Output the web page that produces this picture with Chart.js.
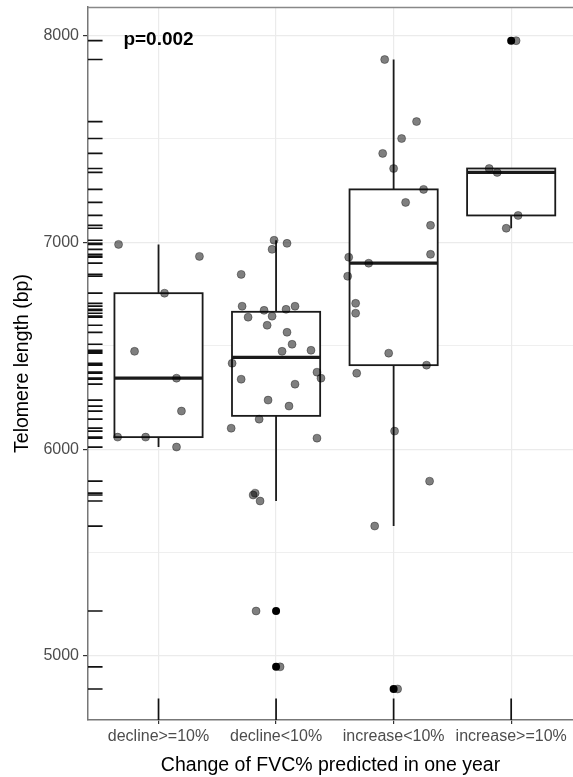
<!DOCTYPE html>
<html>
<head>
<meta charset="utf-8">
<script src="https://cdn.jsdelivr.net/npm/chart.js@4.4.1/dist/chart.umd.min.js"></script>
<style>
  html, body { margin: 0; padding: 0; background: #fff; overflow: hidden; }
  canvas { display: block; }
</style>
</head>
<body>
<canvas id="grafica" width="573" height="777"></canvas>
<script>
const categorias = ["decline>=10%", "decline<10%", "increase<10%", "increase>=10%"];

// telomere length (bp) per group
const valores1 = [6990, 6932, 6754, 6473, 6343, 6184, 6058, 6058, 6010];
const valores2 = [7010, 6995, 6966, 6845, 6691, 6638, 6671, 6643, 6676, 6691, 6599, 6565, 6507, 6473, 6478,
                  6415, 6372, 6343, 6338, 6314, 6237, 6208, 6145, 6101, 6053, 5778, 5787, 5749, 5217, 4947];
const valores3 = [7884, 7584, 7502, 7430, 7357, 7256, 7193, 7082, 6942, 6928, 6899, 6836, 6705, 6657, 6464,
                  6406, 6367, 6087, 5845, 5628, 4840];
const valores4 = [7975, 7357, 7338, 7130, 7068];

// jittered x position of each point (category units)
const jitter1 = [0.660, 1.348, 1.051, 0.796, 1.153, 1.195, 0.652, 0.890, 1.153];
const jitter2 = [1.983, 2.093, 1.966, 1.703, 1.711, 1.762, 1.898, 1.966, 2.085, 2.161, 1.924, 2.093, 2.136, 2.051, 2.297,
                 1.626, 2.348, 2.382, 1.703, 2.161, 1.932, 2.110, 1.856, 1.618, 2.348, 1.805, 1.822, 1.864, 1.830, 2.034];
const jitter3 = [2.924, 3.195, 3.068, 2.907, 3.000, 3.255, 3.102, 3.314, 3.314, 2.618, 2.788, 2.609, 2.677, 2.677, 2.958,
                 3.280, 2.686, 3.008, 3.306, 2.839, 3.034];
const jitter4 = [4.042, 3.813, 3.881, 4.059, 3.958];

const ticksY = [5000, 5500, 6000, 6500, 7000, 7500, 8000];
const etiquetaP = "p=0.002";

const grupos = [valores1, valores2, valores3, valores4];
const jitters = [jitter1, jitter2, jitter3, jitter4];
const FUENTE = "'Liberation Sans', Arial, sans-serif";

function cuantil(arr, p) {
  const s = [...arr].sort((a, b) => a - b);
  const h = (s.length - 1) * p;
  const lo = Math.floor(h);
  const hi = Math.min(lo + 1, s.length - 1);
  return s[lo] + (h - lo) * (s[hi] - s[lo]);
}

function resumen(arr) {
  const q1 = cuantil(arr, 0.25), med = cuantil(arr, 0.5), q3 = cuantil(arr, 0.75);
  const iqr = q3 - q1;
  const dentro = arr.filter(v => v >= q1 - 1.5 * iqr && v <= q3 + 1.5 * iqr);
  return {
    q1, med, q3,
    bajo: Math.min(...dentro),
    alto: Math.max(...dentro),
    atipicos: arr.filter(v => v < q1 - 1.5 * iqr || v > q3 + 1.5 * iqr)
  };
}

const stats = grupos.map(resumen);

const puntos = [];
grupos.forEach((g, i) => g.forEach((v, j) => puntos.push({ x: jitters[i][j], y: v })));
const atipicos = [];
stats.forEach((s, i) => s.atipicos.forEach(v => atipicos.push({ x: i + 1, y: v })));

// boxes, whiskers, rugs, panel border and p label
const cajas = {
  id: "cajas",
  beforeDatasetsDraw(chart) {
    const { ctx, chartArea, scales: { x, y } } = chart;
    ctx.save();
    ctx.strokeStyle = "#888";
    ctx.lineWidth = 1.5;
    ctx.beginPath();
    ctx.moveTo(chartArea.left, chartArea.top + 0.5);
    ctx.lineTo(chartArea.right, chartArea.top + 0.5);
    ctx.stroke();

    stats.forEach((s, i) => {
      const cx = x.getPixelForValue(i + 1);
      const x0 = x.getPixelForValue(i + 1 - 0.375);
      const x1 = x.getPixelForValue(i + 1 + 0.375);
      ctx.strokeStyle = "#1a1a1a";
      ctx.lineWidth = 1.8;
      ctx.beginPath();
      ctx.moveTo(cx, y.getPixelForValue(s.q3));
      ctx.lineTo(cx, y.getPixelForValue(s.alto));
      ctx.moveTo(cx, y.getPixelForValue(s.q1));
      ctx.lineTo(cx, y.getPixelForValue(s.bajo));
      ctx.stroke();
      const yt = y.getPixelForValue(s.q3), yb = y.getPixelForValue(s.q1);
      ctx.fillStyle = "#fff";
      ctx.fillRect(x0, yt, x1 - x0, yb - yt);
      ctx.strokeRect(x0, yt, x1 - x0, yb - yt);
      ctx.lineWidth = 3.2;
      ctx.beginPath();
      ctx.moveTo(x0, y.getPixelForValue(s.med));
      ctx.lineTo(x1, y.getPixelForValue(s.med));
      ctx.stroke();
    });
    ctx.restore();
  },
  afterDatasetsDraw(chart) {
    const { ctx, chartArea, scales: { x, y } } = chart;
    ctx.save();
    ctx.strokeStyle = "#111";
    ctx.lineWidth = 1.7;
    const largoY = (chartArea.right - chartArea.left) * 0.03;
    const largoX = (chartArea.bottom - chartArea.top) * 0.03;
    ctx.beginPath();
    grupos.forEach((g, i) => g.forEach(v => {
      const py = y.getPixelForValue(v);
      ctx.moveTo(chartArea.left, py);
      ctx.lineTo(chartArea.left + largoY, py);
      const px = x.getPixelForValue(i + 1);
      ctx.moveTo(px, chartArea.bottom);
      ctx.lineTo(px, chartArea.bottom - largoX);
    }));
    ctx.stroke();

    ctx.fillStyle = "#000";
    ctx.font = "bold 19px " + FUENTE;
    ctx.textAlign = "center";
    ctx.textBaseline = "middle";
    ctx.fillText(etiquetaP, x.getPixelForValue(1), y.getPixelForValue(7978));
    ctx.restore();
  }
};

new Chart(document.getElementById("grafica"), {
  type: "scatter",
  data: {
    datasets: [
      { data: puntos, backgroundColor: "rgba(0,0,0,0.5)", borderColor: "rgba(0,0,0,0.35)", borderWidth: 1, pointRadius: 4 },
      { data: atipicos, backgroundColor: "#000", borderColor: "#000", borderWidth: 0, pointRadius: 4 }
    ]
  },
  options: {
    responsive: false,
    animation: false,
    layout: { autoPadding: false, padding: { top: 7, right: 0, left: 0, bottom: 0 } },
    plugins: { legend: { display: false }, tooltip: { enabled: false } },
    scales: {
      x: {
        type: "linear",
        min: 0.4,
        max: 4.526,
        afterBuildTicks: s => { s.ticks = [1, 2, 3, 4].map(v => ({ value: v })); },
        afterFit: s => { s.height = 57; s.paddingLeft = 0; s.paddingRight = 0; },
        ticks: {
          callback: v => categorias[v - 1],
          autoSkip: false, maxRotation: 0,
          color: "#4d4d4d", padding: 3,
          font: { family: FUENTE, size: 16 }
        },
        grid: { color: "#ebebeb", lineWidth: 1.2, tickColor: "#333", tickLength: 4 },
        border: { color: "#777", width: 1.5 },
        title: {
          display: true, text: "Change of FVC% predicted in one year", color: "#000",
          font: { family: FUENTE, size: 19.5 }, padding: { top: 5, bottom: 0 }
        }
      },
      y: {
        type: "linear",
        min: 4690,
        max: 8138,
        afterBuildTicks: s => { s.ticks = ticksY.map(v => ({ value: v })); },
        afterFit: s => { s.width = 88; s.paddingTop = 0; s.paddingBottom = 0; },
        ticks: {
          callback: v => (v % 1000 === 0 ? String(v) : ""),
          color: "#4d4d4d", padding: 4,
          font: { family: FUENTE, size: 16 }
        },
        grid: {
          color: "#ebebeb",
          lineWidth: c => (c.tick && c.tick.value % 1000 === 0 ? 1.2 : 0.8),
          tickColor: c => (c.tick && c.tick.value % 1000 === 0 ? "#333" : "rgba(0,0,0,0)"),
          tickLength: 5
        },
        border: { color: "#777", width: 1.5 },
        title: {
          display: true, text: "Telomere length (bp)", color: "#000",
          font: { family: FUENTE, size: 19.5 }, padding: { top: 11, bottom: 0 }
        }
      }
    }
  },
  plugins: [cajas]
});
</script>
</body>
</html>
